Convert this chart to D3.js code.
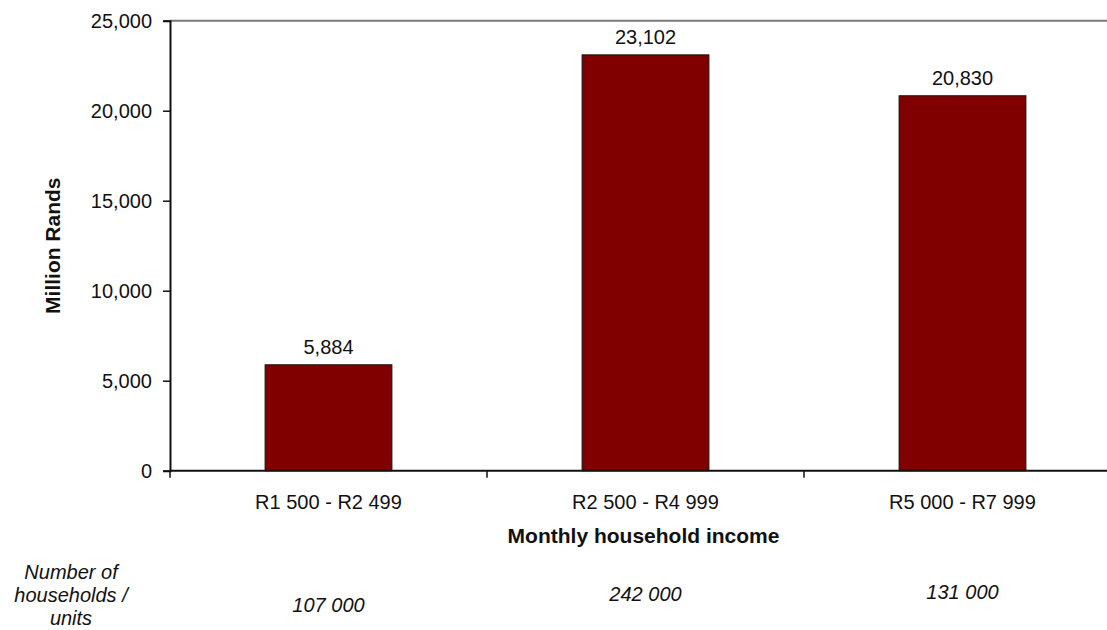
<!DOCTYPE html>
<html>
<head>
<meta charset="utf-8">
<script src="https://cdn.jsdelivr.net/npm/d3@7"></script>
<style>
  html, body { margin: 0; padding: 0; background: #fff; }
  svg { display: block; }
  text { font-family: "Liberation Sans", Arial, sans-serif; fill: #111; }
</style>
</head>
<body>
<svg id="chart" width="1107" height="630"></svg>
<script>
// Household spending by monthly income band (million Rands)
const categories = ["R1 500 - R2 499", "R2 500 - R4 999", "R5 000 - R7 999"];
const values = [5884, 23102, 20830];
const households = ["107 000", "242 000", "131 000"];
const householdOffsets = [0, -11, -13];   // slight vertical stagger of the household row
const yTicks = [0, 5000, 10000, 15000, 20000, 25000];
const yTitle = "Million Rands";
const xTitle = "Monthly household income";
const rowTitle = ["Number of", "households /", "units"];

const svg = d3.select("#chart");
const plotLeft = 170, plotRight = 1121, plotTop = 20.7, plotBottom = 470.7;

const x = d3.scaleBand().domain(categories).range([plotLeft, plotRight]).paddingInner(0.6).paddingOuter(0.3);
const xb = d3.scaleBand().domain(categories).range([plotLeft, plotRight]);
const y = d3.scaleLinear().domain([0, 25000]).range([plotBottom, plotTop]);

// top border of plot area
svg.append("line")
  .attr("x1", plotLeft).attr("x2", plotRight)
  .attr("y1", y(25000)).attr("y2", y(25000))
  .attr("stroke", "#777").attr("stroke-width", 2);

// bars
svg.append("g").selectAll("rect").data(values).join("rect")
  .attr("x", (d, i) => x(categories[i]))
  .attr("y", d => y(d))
  .attr("width", x.bandwidth())
  .attr("height", d => y(0) - y(d))
  .attr("fill", "#800000")
  .attr("stroke", "#111")
  .attr("stroke-width", 1);

// value labels
svg.append("g").selectAll("text").data(values).join("text")
  .attr("x", (d, i) => x(categories[i]) + x.bandwidth() / 2)
  .attr("y", d => y(d) - 11)
  .attr("text-anchor", "middle")
  .style("font-size", "20px")
  .text(d => d3.format(",")(d));

// y axis
const yAxis = svg.append("g")
  .attr("transform", `translate(${plotLeft},0)`)
  .call(d3.axisLeft(y).tickValues(yTicks).tickSize(7).tickPadding(11).tickFormat(d3.format(",")));
yAxis.select(".domain").attr("stroke", "#111").attr("stroke-width", 2);
yAxis.selectAll(".tick line").attr("stroke", "#111").attr("stroke-width", 1.5);
yAxis.selectAll(".tick text").style("font-size", "20px").style("font-family", "Liberation Sans, Arial, sans-serif").attr("fill", "#111");

// x axis with tick marks between categories
const xAxis = svg.append("g").attr("transform", `translate(0,${plotBottom})`);
xAxis.append("line").attr("x1", plotLeft).attr("x2", plotRight).attr("y1", 0).attr("y2", 0)
  .attr("stroke", "#111").attr("stroke-width", 2);
xAxis.selectAll("line.tk").data(categories.concat(["end"])).join("line")
  .attr("class", "tk")
  .attr("x1", (d, i) => plotLeft + i * xb.bandwidth())
  .attr("x2", (d, i) => plotLeft + i * xb.bandwidth())
  .attr("y1", 0).attr("y2", 7)
  .attr("stroke", "#111").attr("stroke-width", 1.5);
xAxis.selectAll("text").data(categories).join("text")
  .attr("x", d => xb(d) + xb.bandwidth() / 2)
  .attr("y", 38)
  .attr("text-anchor", "middle")
  .style("font-size", "20px")
  .text(d => d);

// axis titles
svg.append("text")
  .attr("transform", `translate(60,${(plotTop + plotBottom) / 2}) rotate(-90)`)
  .attr("text-anchor", "middle")
  .style("font-size", "21px").style("font-weight", "bold")
  .text(yTitle);
svg.append("text")
  .attr("x", (plotLeft + plotRight) / 2 - 2).attr("y", 543)
  .attr("text-anchor", "middle")
  .style("font-size", "21px").style("font-weight", "bold")
  .text(xTitle);

// households row
svg.append("g").selectAll("text").data(households).join("text")
  .attr("x", (d, i) => x(categories[i]) + x.bandwidth() / 2)
  .attr("y", (d, i) => 612 + householdOffsets[i])
  .attr("text-anchor", "middle")
  .style("font-size", "20px").style("font-style", "italic")
  .text(d => d);
svg.append("g").selectAll("text").data(rowTitle).join("text")
  .attr("x", 71)
  .attr("y", (d, i) => 579 + i * 23)
  .attr("text-anchor", "middle")
  .style("font-size", "20px").style("font-style", "italic")
  .text(d => d);
</script>
</body>
</html>
